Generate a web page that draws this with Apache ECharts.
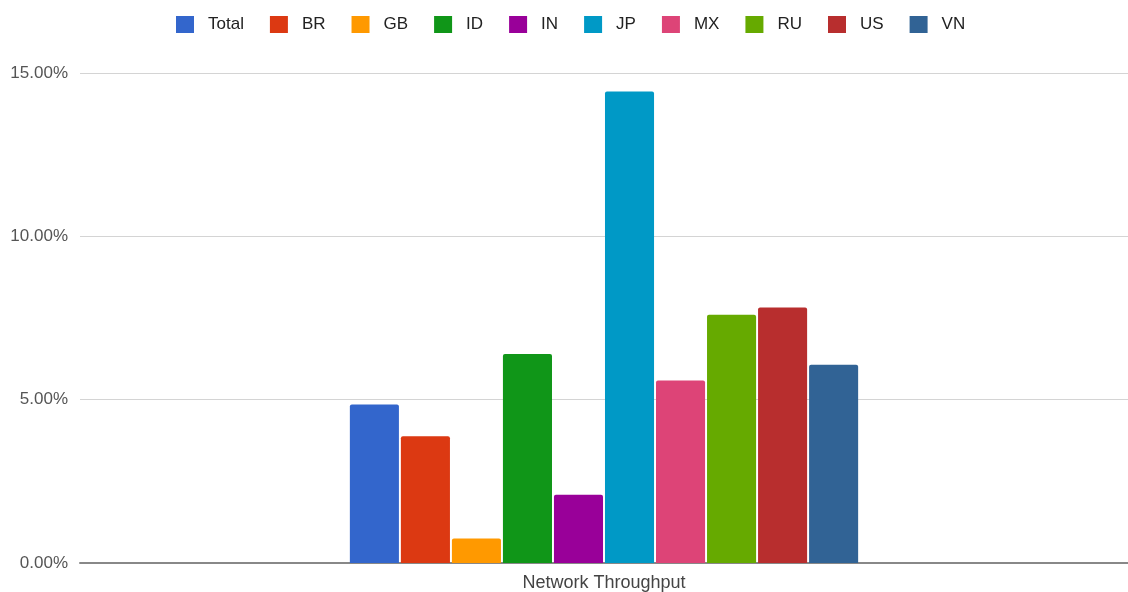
<!DOCTYPE html>
<html>
<head>
<meta charset="utf-8">
<script src="https://cdn.jsdelivr.net/npm/echarts@6/dist/echarts.min.js"></script>
<style>
html,body{margin:0;padding:0;background:#fff;}
#chart{width:1128px;height:592px;}
</style>
</head>
<body>
<div id="chart"></div>
<script>
const categories = ['Network Throughput'];
const seriesNames = ['Total', 'BR', 'GB', 'ID', 'IN', 'JP', 'MX', 'RU', 'US', 'VN'];
const seriesValues = [4.85, 3.88, 0.75, 6.40, 2.09, 14.43, 5.59, 7.60, 7.82, 6.07];
const seriesColors = ['#3366cc', '#dc3912', '#ff9900', '#109618', '#990099', '#0099c6', '#dd4477', '#66aa00', '#b82e2e', '#316395'];
const yTicks = [0, 5, 10, 15];

const chart = echarts.init(document.getElementById('chart'));
const series = seriesNames.map((name, i) => ({
  name: name,
  type: 'bar',
  data: [seriesValues[i]],
  itemStyle: { color: seriesColors[i], borderRadius: [2, 2, 0, 0] },
  barGap: '4%',
  barCategoryGap: '51.5%'
}));

chart.setOption({
  animation: false,
  textStyle: { fontFamily: 'Liberation Sans, Arial, sans-serif' },
  legend: {
    top: 11,
    left: 171,
    itemWidth: 18,
    itemHeight: 17,
    itemGap: 26,
    icon: 'rect',
    textStyle: { fontSize: 17, color: '#222', padding: [0, 0, 0, 9] },
    data: seriesNames
  },
  grid: { left: 80, right: 0, top: 73, bottom: 28 },
  xAxis: {
    type: 'category',
    data: categories,
    axisTick: { show: false },
    axisLine: { lineStyle: { color: '#888', width: 2 } },
    axisLabel: { color: '#444', fontSize: 18, margin: 11 }
  },
  yAxis: {
    type: 'value',
    min: yTicks[0],
    max: yTicks[yTicks.length - 1],
    interval: 5,
    axisLine: { show: false },
    axisTick: { show: false },
    splitLine: { lineStyle: { color: '#d4d4d4' } },
    axisLabel: {
      color: '#555',
      fontSize: 17,
      margin: 12,
      formatter: v => v.toFixed(2) + '%'
    }
  },
  series: series
});
</script>
</body>
</html>
